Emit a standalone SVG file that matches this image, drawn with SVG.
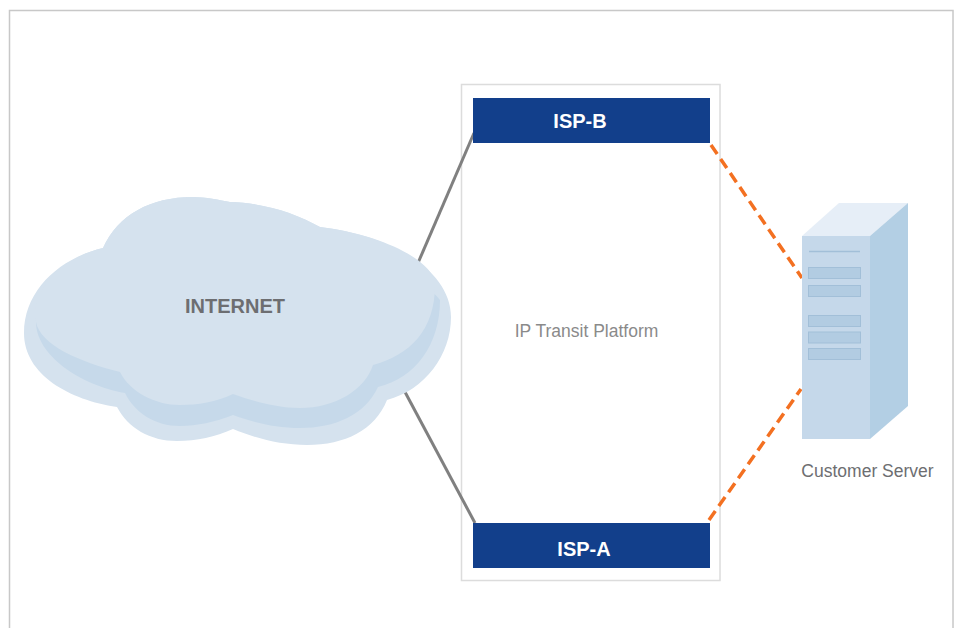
<svg xmlns="http://www.w3.org/2000/svg" width="959" height="628" viewBox="0 0 959 628">
<style>
.frame{fill:none;stroke:#c8c8c8;stroke-width:1.5}
.platform{fill:#fff;stroke:#dcdcdc;stroke-width:1.5}
.isp{fill:#123f8b}
.isptxt{font-family:"Liberation Sans",Arial,sans-serif;font-weight:bold;font-size:20px;fill:#fff;text-anchor:middle}
.lbl{font-family:"Liberation Sans",Arial,sans-serif;font-size:17.5px;text-anchor:middle}
.gray{stroke:#808080;stroke-width:3;fill:none}
.orange{stroke:#f37021;stroke-width:3.5;fill:none;stroke-dasharray:11 6}
.cl{fill:#d5e2ee}
.cs{fill:#c6d9ea}
.slot{fill:#b2cce2;stroke:#a2bfd8;stroke-width:1}
</style>
<rect class="frame" x="9.5" y="10.5" width="943.5" height="630"/>
<g id="platform">
<rect class="platform" x="461.5" y="84.5" width="258.5" height="496"/>
<text class="lbl" x="586.5" y="337" fill="#8a8a8a">IP Transit Platform</text>
</g>
<g id="connectors">
<line class="gray" x1="474" y1="133" x2="418" y2="263"/>
<line class="gray" x1="405" y1="392" x2="475" y2="523"/>
<line class="orange" x1="711" y1="145" x2="802" y2="278"/>
<line class="orange" x1="709" y1="520" x2="801" y2="389"/>
</g>
<g id="internet">
<path class="cl" d="M24,333 C24,290 60,258 103,248 C118,215 150,197 193,197 C205,197 220,200 230,202 C265,203 295,213 320,227 C390,235 451,270 451,317 C451,355 425,390 387,400 C375,430 345,445 307,445 C280,445 255,438 233,429 C215,437 197,441 177,441 C150,441 128,428 117,407 C70,400 24,375 24,333 Z"/>
<path class="cs" d="M36,322 C60,270 400,240 440,300 C440,345 415,378 378,387 C365,415 335,428 300,428 C275,428 252,422 233,415 C215,422 197,426 180,426 C155,426 135,413 125,393 C80,385 36,355 36,322 Z"/>
<path class="cl" d="M36,322 C30,292 60,258 103,248 C118,215 150,197 193,197 C205,197 220,200 230,202 C265,203 295,213 320,227 C385,235 435,262 435,285 C435,330 410,355 373,365 C365,390 335,408 300,408 C275,408 250,400 233,394 C217,402 197,405 180,405 C155,405 130,392 120,372 C80,362 40,345 36,322 Z"/>
<text x="235" y="313" font-family="Liberation Sans,Arial,sans-serif" font-weight="bold" font-size="20" fill="#6d6e71" text-anchor="middle">INTERNET</text>
</g>
<g id="isp-b">
<rect class="isp" x="473" y="98" width="237" height="45"/>
<text class="isptxt" x="580" y="128">ISP-B</text>
</g>
<g id="isp-a">
<rect class="isp" x="473" y="523" width="237" height="45"/>
<text class="isptxt" x="584" y="556">ISP-A</text>
</g>
<g id="server">
<polygon points="802,236 839,203 908,203 870,236" fill="#e6eef7"/>
<polygon points="870,236 908,203 908,406 870,439" fill="#b3cfe4"/>
<rect x="802" y="236" width="68" height="203" fill="#c5d8ea"/>
<line x1="809" y1="251.5" x2="860" y2="251.5" stroke="#a2bfd8" stroke-width="1.5"/>
<rect class="slot" x="808.5" y="267.5" width="52" height="11"/>
<rect class="slot" x="808.5" y="285.5" width="52" height="11"/>
<rect class="slot" x="808.5" y="315.5" width="52" height="11"/>
<rect class="slot" x="808.5" y="332" width="52" height="11"/>
<rect class="slot" x="808.5" y="348.5" width="52" height="11"/>
<text class="lbl" x="867.5" y="477" fill="#6d6e71">Customer Server</text>
</g>
</svg>
